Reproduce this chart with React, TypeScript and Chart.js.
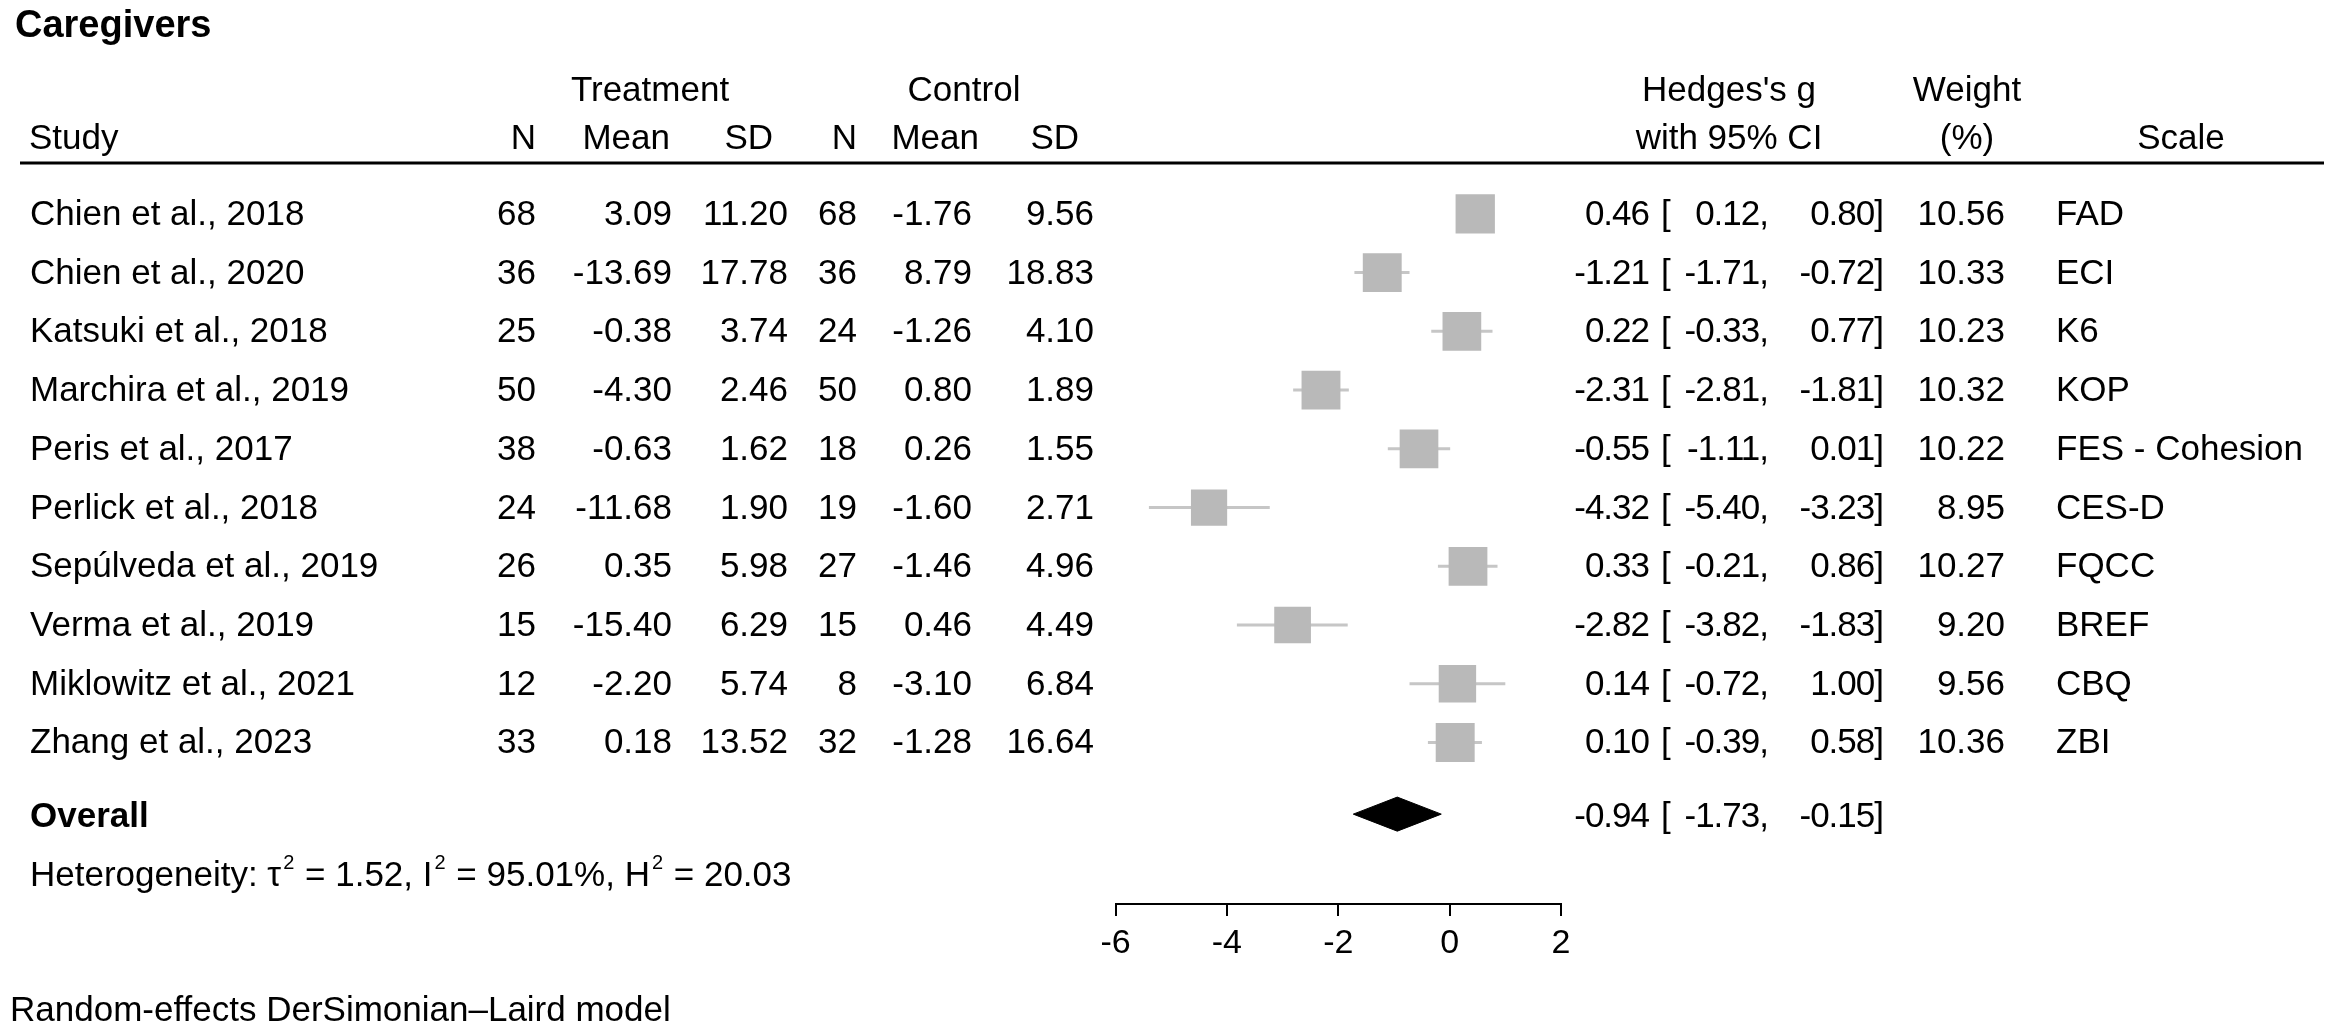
import React, { useEffect, useRef } from "react";
import { Chart, registerables } from "chart.js";

Chart.register(...registerables);

// ---------------- data ----------------
const studies = [
  "Chien et al., 2018",
  "Chien et al., 2020",
  "Katsuki et al., 2018",
  "Marchira et al., 2019",
  "Peris et al., 2017",
  "Perlick et al., 2018",
  "Sepúlveda et al., 2019",
  "Verma et al., 2019",
  "Miklowitz et al., 2021",
  "Zhang et al., 2023",
];
const nTreat = [68, 36, 25, 50, 38, 24, 26, 15, 12, 33];
const meanTreat = [3.09, -13.69, -0.38, -4.3, -0.63, -11.68, 0.35, -15.4, -2.2, 0.18];
const sdTreat = [11.2, 17.78, 3.74, 2.46, 1.62, 1.9, 5.98, 6.29, 5.74, 13.52];
const nCtrl = [68, 36, 24, 50, 18, 19, 27, 15, 8, 32];
const meanCtrl = [-1.76, 8.79, -1.26, 0.8, 0.26, -1.6, -1.46, 0.46, -3.1, -1.28];
const sdCtrl = [9.56, 18.83, 4.1, 1.89, 1.55, 2.71, 4.96, 4.49, 6.84, 16.64];
const hedgesG = [0.46, -1.21, 0.22, -2.31, -0.55, -4.32, 0.33, -2.82, 0.14, 0.1];
const ciLow = [0.12, -1.71, -0.33, -2.81, -1.11, -5.4, -0.21, -3.82, -0.72, -0.39];
const ciHigh = [0.8, -0.72, 0.77, -1.81, 0.01, -3.23, 0.86, -1.83, 1.0, 0.58];
const weights = [10.56, 10.33, 10.23, 10.32, 10.22, 8.95, 10.27, 9.2, 9.56, 10.36];
const scales = ["FAD", "ECI", "K6", "KOP", "FES - Cohesion", "CES-D", "FQCC", "BREF", "CBQ", "ZBI"];
const overall = { g: -0.94, lo: -1.73, hi: -0.15 };
const heterogeneity = { tau2: 1.52, i2: 95.01, h2: 20.03 };
const xTicks = [-6, -4, -2, 0, 2];

// ---------------- styles ----------------
const W = 2337;
const H = 1036;
const FONT = '"Liberation Sans", Arial, Helvetica, sans-serif';
const BOX = "#b9b9b9";
const CI = "#c6c6c6";
const OVERALL_ROW = 11.22;
const DIAMOND_HALF = 0.29;
const boxSide = (w: number) => 12.1 * Math.sqrt(w);

const f2 = (v: number) => v.toFixed(2);

const tablePlugin = {
  id: "forestTable",
  afterDraw(chart: any) {
    const ctx: any = chart.ctx;
    const ys = chart.scales.y;
    const REG = `35px ${FONT}`;
    const BOLD = `bold 35px ${FONT}`;
    ctx.save();
    ctx.fillStyle = "#000";
    ctx.textBaseline = "alphabetic";
    const txt = (s: string, x: number, y: number, align: CanvasTextAlign, font = REG) => {
      ctx.font = font;
      ctx.textAlign = align;
      ctx.fillText(s, x, y);
    };

    txt("Caregivers", 15, 37, "left", `bold 38px ${FONT}`);

    // header rows
    txt("Treatment", 650, 101, "center");
    txt("Control", 964, 101, "center");
    txt("Hedges's g", 1729, 101, "center");
    txt("Weight", 1967, 101, "center");
    txt("Study", 29, 149, "left");
    txt("N", 536, 149, "right");
    txt("Mean", 670, 149, "right");
    txt("SD", 773, 149, "right");
    txt("N", 857, 149, "right");
    txt("Mean", 979, 149, "right");
    txt("SD", 1079, 149, "right");
    txt("with 95% CI", 1729, 149, "center");
    txt("(%)", 1967, 149, "center");
    txt("Scale", 2181, 149, "center");

    ctx.strokeStyle = "#000";
    ctx.lineWidth = 3;
    ctx.beginPath();
    ctx.moveTo(20, 163);
    ctx.lineTo(2324, 163);
    ctx.stroke();

    const ciText = (g: number, lo: number, hi: number, by: number) => {
      ctx.letterSpacing = "-1px";
      txt(f2(g), 1649, by, "right");
      txt(f2(lo) + ",", 1768, by, "right");
      txt(f2(hi) + "]", 1883, by, "right");
      ctx.letterSpacing = "0px";
      txt("[", 1661, by, "left");
    };

    studies.forEach((s, i) => {
      const by = ys.getPixelForValue(i + 1) + 11;
      txt(s, 30, by, "left");
      txt(String(nTreat[i]), 536, by, "right");
      txt(f2(meanTreat[i]), 672, by, "right");
      txt(f2(sdTreat[i]), 788, by, "right");
      txt(String(nCtrl[i]), 857, by, "right");
      txt(f2(meanCtrl[i]), 972, by, "right");
      txt(f2(sdCtrl[i]), 1094, by, "right");
      ciText(hedgesG[i], ciLow[i], ciHigh[i], by);
      txt(f2(weights[i]), 2005, by, "right");
      txt(scales[i], 2056, by, "left");
    });

    const oy = ys.getPixelForValue(OVERALL_ROW) + 13;
    txt("Overall", 30, oy, "left", BOLD);
    ciText(overall.g, overall.lo, overall.hi, oy);

    // heterogeneity line with superscripts
    const hy = 886;
    const SUP = `20px ${FONT}`;
    let x = 30;
    const seg = (s: string, sup = false) => {
      ctx.font = sup ? SUP : REG;
      ctx.textAlign = "left";
      ctx.fillText(s, x, sup ? hy - 17 : hy);
      x += ctx.measureText(s).width + (sup ? 1 : 0);
    };
    seg("Heterogeneity: \u03C4");
    x += 2;
    seg("2", true);
    seg(` = ${f2(heterogeneity.tau2)}, I`);
    x += 2;
    seg("2", true);
    seg(` = ${f2(heterogeneity.i2)}%, H`);
    x += 2;
    seg("2", true);
    seg(` = ${f2(heterogeneity.h2)}`);

    txt("Random-effects DerSimonian\u2013Laird model", 10, 1021, "left");
    ctx.restore();
  },
};

export default function App() {
  const ref = useRef<HTMLCanvasElement | null>(null);

  useEffect(() => {
    document.body.style.margin = "0";
    if (!ref.current) return;
    const rows = studies.map((_, i) => i + 1);

    const ciSets = rows.map((r, i) => ({
      type: "line" as const,
      data: [
        { x: ciLow[i], y: r },
        { x: ciHigh[i], y: r },
      ],
      borderColor: CI,
      borderWidth: 3,
      pointRadius: 0,
      fill: false,
      order: 1,
    }));

    const diamondTop = [
      { x: overall.lo, y: OVERALL_ROW },
      { x: overall.g, y: OVERALL_ROW - DIAMOND_HALF },
      { x: overall.hi, y: OVERALL_ROW },
    ];
    const diamondBottom = [
      { x: overall.lo, y: OVERALL_ROW },
      { x: overall.g, y: OVERALL_ROW + DIAMOND_HALF },
      { x: overall.hi, y: OVERALL_ROW },
    ];

    const datasets: any[] = [
      {
        type: "scatter",
        data: rows.map((r, i) => ({ x: hedgesG[i], y: r })),
        pointStyle: "rect",
        pointRadius: (c: any) => boxSide(weights[c.dataIndex] ?? 10) / Math.SQRT2,
        backgroundColor: BOX,
        borderWidth: 0,
        order: 0,
      },
      ...ciSets,
    ];
    const topIndex = datasets.length;
    datasets.push({
      type: "line",
      data: diamondTop,
      borderColor: "#000",
      borderWidth: 1,
      backgroundColor: "#000",
      fill: topIndex + 1,
      pointRadius: 0,
      tension: 0,
      order: 2,
    });
    datasets.push({
      type: "line",
      data: diamondBottom,
      borderColor: "#000",
      borderWidth: 1,
      backgroundColor: "#000",
      fill: false,
      pointRadius: 0,
      tension: 0,
      order: 3,
    });

    const chart = new Chart(ref.current, {
      type: "scatter",
      data: { datasets },
      options: {
        animation: false,
        responsive: false,
        devicePixelRatio: 1,
        maintainAspectRatio: false,
        events: [],
        layout: { padding: { left: 1115.5, right: 776, top: 184.5, bottom: 72 } },
        plugins: {
          legend: { display: false },
          tooltip: { enabled: false },
          title: { display: false },
        },
        scales: {
          x: {
            type: "linear",
            position: "bottom",
            min: xTicks[0],
            max: xTicks[xTicks.length - 1],
            afterFit: (s: any) => {
              s.height = 60;
            },
            afterBuildTicks: (s: any) => {
              s.ticks = xTicks.map((v) => ({ value: v }));
            },
            ticks: {
              color: "#000",
              font: { family: FONT, size: 34 },
              padding: 7,
              maxRotation: 0,
              autoSkip: false,
              callback: (v: any) => String(v),
            },
            grid: {
              drawOnChartArea: false,
              drawTicks: true,
              tickLength: 12,
              color: "#000",
              lineWidth: 2,
            },
            border: { display: true, color: "#000", width: 2 },
          },
          y: {
            type: "linear",
            display: false,
            reverse: true,
            min: 0.5,
            max: 12.75,
          },
        },
      },
      plugins: [tablePlugin],
    } as any);

    return () => chart.destroy();
  }, []);

  return (
    <div style={{ position: "fixed", left: 0, top: 0, width: W, height: H, background: "#fff" }}>
      <canvas ref={ref} width={W} height={H} style={{ width: W, height: H, display: "block" }} />
    </div>
  );
}
